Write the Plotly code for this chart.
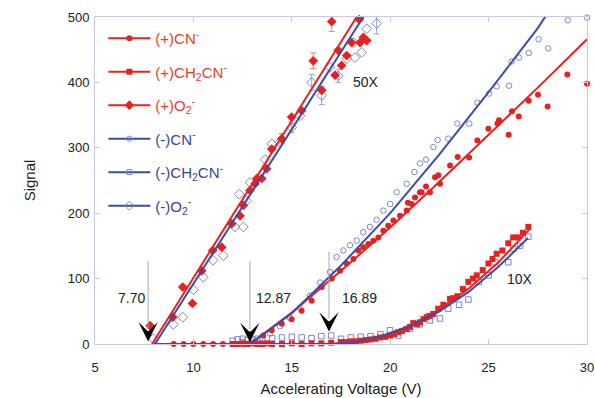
import plotly.graph_objects as go

RED = "#e8201e"
RED_TXT = "#ef3b2a"
BLUE = "#3a4ea8"
BLUE_MK = "#7c86c8"
BLUE_TXT = "#34469c"
FONT = "Liberation Sans, Arial, sans-serif"

# ---- data: (+)O2- red diamonds ----
o2p_x = [7.80, 8.95, 9.46, 9.95, 10.42, 10.98, 11.44, 11.95, 12.37, 12.54, 12.88, 13.13, 13.22, 13.47,
         13.72, 13.98, 14.49, 14.99, 15.5, 16.09, 16.52, 17.03, 17.2, 17.36, 17.53, 17.79, 18.04, 18.43,
         18.47, 18.64, 18.81]
o2p_y = [28, 41, 87, 62, 112, 143, 148, 184, 196, 212, 235, 245, 253, 253,
         268, 298, 314, 347, 357, 433, 388, 493, 411, 449, 426, 441, 461, 496,
         461, 469, 464]
o2p_ex = [14.49, 16.09, 17.03]
o2p_ey = [314, 433, 493]
o2p_err = [8, 12, 15]

# ---- (-)O2- blue open diamonds ----
o2n_x = [7.96, 8.98, 9.46, 10.0, 10.5, 11.0, 11.52, 12.11, 12.33, 12.54, 12.7, 12.88, 13.64, 13.98,
         14.4, 14.99, 15.42, 16.01, 16.52, 16.94, 17.36, 17.79, 18.13, 18.21, 18.55, 18.81, 19.31]
o2n_y = [8, 30, 41, 83, 102, 128, 135, 179, 229, 179, 219, 247, 282, 306,
         309, 331, 349, 400, 380, 423, 410, 436, 461, 438, 446, 482, 490]
o2n_ex = [14.99, 16.01, 16.52, 17.36, 19.31]
o2n_ey = [331, 400, 380, 410, 490]
o2n_err = [8, 12, 14, 10, 16]

# ---- (+)CN- red circles ----
cnp_x = [9.0, 9.5, 10.0, 10.5, 11.0, 11.5, 12.0, 12.5, 12.87, 13.13, 13.55, 13.98, 14.49, 14.99, 15.5,
         16.01, 16.52, 17.03, 17.45, 17.79, 18.13, 18.38, 18.63, 18.89, 19.14, 19.4, 19.65, 19.9,
         20.16, 20.5, 20.84, 20.9, 21.09, 21.26, 21.51, 21.6, 21.82, 22.02, 22.28, 22.45, 22.53,
         23.04, 23.43, 24.01, 24.43, 24.99, 25.45, 25.53, 26.02, 26.19, 26.53, 27.04, 27.51, 28.0,
         29.0, 30.0]
cnp_y = [0, 0, 0, 0, 0, 0, 0, 0, 1, 3, 13, 21, 31, 38, 51,
         66, 87, 100, 112, 123, 130, 143, 148, 153, 158, 163, 173, 181,
         189, 196, 204, 216, 214, 224, 232, 232, 241, 232, 255, 258, 245,
         273, 286, 285, 311, 329, 337, 342, 320, 356, 348, 372, 381, 363,
         412, 398]

# ---- (-)CN- blue open circles ----
cnn_x = [12.5, 13.0, 13.38, 13.89, 14.4, 14.9, 15.4, 15.92, 16.43, 16.94, 17.28, 17.62, 17.96, 18.3,
         18.63, 18.97, 19.31, 19.65, 20.0, 20.33, 20.84, 21.23, 21.51, 21.82, 22.19, 22.41, 22.95,
         23.41, 24.02, 24.43, 25.02, 25.41, 26.04, 26.17, 26.54, 27.04, 27.54, 28.03, 29.02, 30.0]
cnn_y = [3, 5, 8, 16, 27, 40, 55, 74, 94, 110, 133, 143, 151, 158,
         171, 179, 190, 204, 214, 232, 245, 263, 276, 282, 301, 312, 314,
         337, 337, 369, 383, 394, 395, 432, 438, 445, 466, 452, 495, 499]

# ---- (+)CH2CN- red squares ----
chp_x = [12.0, 12.25, 12.5, 12.75, 13.0, 13.25, 13.5, 13.75, 14.0, 14.5, 15.0, 15.5, 16.0, 16.5, 17.0,
         17.5, 17.75, 18.0, 18.25, 18.5, 18.75, 19.0, 19.25, 19.48, 19.75, 19.99, 20.2, 20.41, 20.6,
         20.84, 21.0, 21.17, 21.35, 21.51, 21.7, 21.85, 22.0, 22.19, 22.44, 22.7, 23.04, 23.2, 23.41,
         23.7, 23.97, 24.2, 24.4, 24.7, 24.99, 25.2, 25.41, 25.7, 26.0, 26.25, 26.5, 26.75, 27.02]
chp_y = [0, 0, 1, 0, 1, 0, 0, 1, 0, 0, 1, 0, 1, 1, 2,
         3, 3, 4, 4, 5, 6, 7, 8, 10, 11, 13, 15, 18, 20,
         23, 26, 32, 30, 33, 38, 41, 43, 46, 54, 60, 69, 70, 73,
         84, 95, 100, 105, 113, 123, 130, 138, 143, 154, 163, 163, 170, 179]

# ---- (-)CH2CN- blue open squares ----
chn_x = [12.0, 12.25, 12.5, 12.75, 13.0, 13.25, 13.5, 14.0, 14.5, 15.0, 15.5, 16.0, 16.5, 17.0, 17.5,
         18.0, 18.5, 19.0, 19.5, 19.99, 20.41, 21.0, 21.5, 22.02, 22.53, 22.95, 23.5, 23.97, 24.5,
         25.0, 25.33, 26.0, 26.25, 26.6, 27.02]
chn_y = [5, 7, 8, 6, 7, 8, 9, 9, 10, 11, 10, 9, 12, 13, 8,
         10, 11, 12, 15, 21, 13, 23, 30, 36, 39, 54, 60, 68, 95,
         105, 125, 125, 146, 150, 164]

# ---- fit curves ----
fit_o2p_x = [7.9, 18.5]
fit_o2p_y = [0, 510]
fit_o2n_x = [8.05, 18.8]
fit_o2n_y = [0, 508]
fit_cnp_x = [8.0, 12.87, 15, 17.5, 20, 22.5, 25, 27.5, 30]
fit_cnp_y = [0, 0, 48, 112, 178, 248, 320, 392, 466]
fit_cnn_x = [8.0, 12.87, 15, 17.5, 20, 22.5, 25, 27.5, 28.3]
fit_cnn_y = [0, 0, 47, 120, 200, 290, 385, 483, 520]
fit_chp_x = [12.0, 16.89, 18, 19.5, 21, 22.5, 24, 25.5, 27.1]
fit_chp_y = [0, 0, 2, 11, 28, 53, 85, 125, 176]
fit_chn_x = [12.0, 16.89, 18, 19.5, 21, 22.5, 24, 25.5, 27.0]
fit_chn_y = [0, 0, 2, 11, 27, 50, 80, 118, 162]

# ---- thresholds (arrows) ----
thr_x = [7.70, 12.87, 16.89]
thr_top = [127, 127, 141]
thr_tip = [4, 3, 19]
thr_lbl_x = [6.83, 14.05, 18.42]
thr_lbl_y = [70, 70, 70]

scale_lbl = ["50X", "10X"]
scale_x = [18.77, 26.6]
scale_y = [401, 99]

fig = go.Figure()

def mk(symbol, size, filled, color):
    if filled:
        return dict(symbol=symbol, size=size, color=color, line=dict(width=0))
    return dict(symbol=symbol + "-open", size=size, color=color, line=dict(width=1, color=color))

# error bars (invisible markers, only bars)
fig.add_trace(go.Scatter(x=o2p_ex, y=o2p_ey, mode="markers", marker=dict(opacity=0, size=2),
                         error_y=dict(type="data", array=o2p_err, color="#f08070", thickness=1, width=3),
                         showlegend=False, hoverinfo="skip"))
fig.add_trace(go.Scatter(x=o2n_ex, y=o2n_ey, mode="markers", marker=dict(opacity=0, size=2),
                         error_y=dict(type="data", array=o2n_err, color="#9aa2d4", thickness=1, width=3),
                         showlegend=False, hoverinfo="skip"))

data_traces = [
    (chn_x, chn_y, mk("square", 5.5, False, BLUE_MK)),
    (cnn_x, cnn_y, mk("circle", 5.5, False, BLUE_MK)),
    (o2n_x, o2n_y, mk("diamond", 7.5, False, BLUE_MK)),
    (chp_x, chp_y, mk("square", 6, True, RED)),
    (cnp_x, cnp_y, mk("circle", 6, True, RED)),
    (o2p_x, o2p_y, mk("diamond", 7.5, True, RED)),
]
for x, y, m in data_traces:
    fig.add_trace(go.Scatter(x=x, y=y, mode="markers", marker=m, showlegend=False,
                             cliponaxis=False))

fits = [
    (fit_chp_x, fit_chp_y, RED), (fit_cnp_x, fit_cnp_y, RED), (fit_o2p_x, fit_o2p_y, RED),
    (fit_chn_x, fit_chn_y, BLUE), (fit_cnn_x, fit_cnn_y, BLUE), (fit_o2n_x, fit_o2n_y, BLUE),
]
for x, y, c in fits:
    fig.add_trace(go.Scatter(x=x, y=y, mode="lines", line=dict(color=c, width=2),
                             showlegend=False, hoverinfo="skip"))

# legend entries
leg = [
    ("(+)CN<sup>-</sup>", RED, RED_TXT, mk("circle", 6, True, RED)),
    ("(+)CH<sub>2</sub>CN<sup>-</sup>", RED, RED_TXT, mk("square", 6, True, RED)),
    ("(+)O<sub>2</sub><sup>-</sup>", RED, RED_TXT, mk("diamond", 7.5, True, RED)),
    ("(-)CN<sup>-</sup>", BLUE, BLUE_TXT, mk("circle", 5, False, BLUE_MK)),
    ("(-)CH<sub>2</sub>CN<sup>-</sup>", BLUE, BLUE_TXT, mk("square", 5, False, BLUE_MK)),
    ("(-)O<sub>2</sub><sup>-</sup>", BLUE, BLUE_TXT, mk("diamond", 7, False, BLUE_MK)),
]
for i, (name, lc, tc, m) in enumerate(leg):
    fig.add_trace(go.Scatter(x=[None], y=[None], mode="lines+markers",
                             name=f'<span style="color:{tc}">{name}</span>',
                             line=dict(color=lc, width=2), marker=m,
                             legendgroup=f"g{i}", showlegend=True))

# threshold arrows
for tx, top, tip, lx, ly in zip(thr_x, thr_top, thr_tip, thr_lbl_x, thr_lbl_y):
    fig.add_shape(type="line", x0=tx, x1=tx, y0=top, y1=tip + 20, xref="x", yref="y",
                  line=dict(color="#a8a8a8", width=1))
    fig.add_annotation(x=tx, y=tip, ax=0, ay=-12, text="", showarrow=True, arrowhead=3,
                       arrowsize=2.3, arrowwidth=1.4, arrowcolor="black", standoff=0)
    fig.add_annotation(x=lx, y=ly, text=f"{tx:.2f}", showarrow=False,
                       font=dict(family=FONT, size=14, color="#222"))

for t, x, y in zip(scale_lbl, scale_x, scale_y):
    fig.add_annotation(x=x, y=y, text=t, showarrow=False,
                       font=dict(family=FONT, size=14, color="#222"))

axcol = "#c4caec"
fig.update_xaxes(range=[5, 30], dtick=5, tick0=5, ticks="inside", ticklen=5, tickcolor=axcol,
                 showline=True, linecolor=axcol, linewidth=1, mirror="ticks", showgrid=False,
                 zeroline=False, tickfont=dict(family=FONT, size=13, color="#222"),
                 ticklabelstandoff=11, automargin=False,
                 title=dict(text="Accelerating Voltage (V)", font=dict(family=FONT, size=15, color="#222"),
                            standoff=9))
fig.update_yaxes(range=[0, 500], dtick=100, ticks="inside", ticklen=5, tickcolor=axcol,
                 showline=True, linecolor=axcol, linewidth=1, mirror="ticks", showgrid=False,
                 zeroline=False, tickfont=dict(family=FONT, size=13, color="#222"),
                 ticklabelstandoff=2, automargin=False,
                 title=dict(text="Signal", font=dict(family=FONT, size=15, color="#222"), standoff=28))

fig.update_layout(
    width=595, height=398,
    margin=dict(l=95, r=8, t=17, b=54),
    plot_bgcolor="white", paper_bgcolor="white",
    showlegend=True,
    legend=dict(x=0.017, y=0.985, xanchor="left", yanchor="top", bgcolor="rgba(0,0,0,0)",
                font=dict(family=FONT, size=15), traceorder="grouped", tracegroupgap=11,
                itemwidth=42),
)

fig.write_html("out.html")
